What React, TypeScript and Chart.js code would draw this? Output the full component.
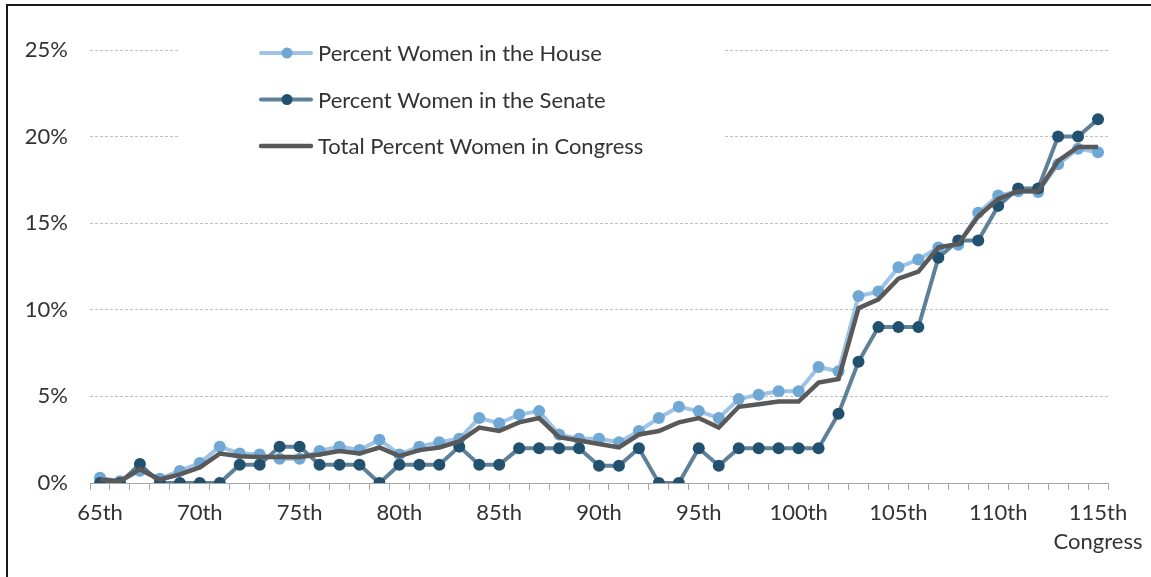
import React, { useEffect, useRef } from "react";
import { Chart, registerables } from "chart.js";

Chart.register(...registerables);

const congresses: string[] = [
  "65th", "66th", "67th", "68th", "69th", "70th", "71st", "72nd", "73rd", "74th",
  "75th", "76th", "77th", "78th", "79th", "80th", "81st", "82nd", "83rd", "84th",
  "85th", "86th", "87th", "88th", "89th", "90th", "91st", "92nd", "93rd", "94th",
  "95th", "96th", "97th", "98th", "99th", "100th", "101st", "102nd", "103rd", "104th",
  "105th", "106th", "107th", "108th", "109th", "110th", "111th", "112th", "113th", "114th",
  "115th",
];

const houseValues: number[] = [
  0.3, 0.1, 0.7, 0.25, 0.7, 1.15, 2.1, 1.7, 1.65, 1.4,
  1.4, 1.85, 2.1, 1.9, 2.5, 1.65, 2.1, 2.35, 2.55, 3.75,
  3.45, 3.95, 4.15, 2.8, 2.55, 2.55, 2.35, 3.0, 3.75, 4.4,
  4.15, 3.75, 4.85, 5.1, 5.3, 5.3, 6.7, 6.45, 10.8, 11.05,
  12.45, 12.9, 13.6, 13.75, 15.6, 16.6, 16.85, 16.8, 18.4, 19.3,
  19.1,
];

const senateValues: number[] = [
  0, 0, 1.1, 0, 0, 0, 0, 1.05, 1.05, 2.1,
  2.1, 1.05, 1.05, 1.05, 0, 1.05, 1.05, 1.05, 2.1, 1.05,
  1.05, 2.0, 2.0, 2.0, 2.0, 1.0, 1.0, 2.0, 0, 0,
  2.0, 1.0, 2.0, 2.0, 2.0, 2.0, 2.0, 4.0, 7.0, 9.0,
  9.0, 9.0, 13.0, 14.0, 14.0, 16.0, 17.0, 17.0, 20.0, 20.0,
  21.0,
];

const totalValues: number[] = [
  0.2, 0.1, 0.8, 0.2, 0.5, 0.9, 1.7, 1.55, 1.5, 1.5,
  1.5, 1.65, 1.85, 1.7, 2.05, 1.55, 1.9, 2.05, 2.4, 3.2,
  3.0, 3.5, 3.75, 2.65, 2.45, 2.25, 2.05, 2.8, 3.0, 3.5,
  3.75, 3.2, 4.4, 4.55, 4.7, 4.7, 5.8, 6.0, 10.1, 10.6,
  11.8, 12.2, 13.6, 13.8, 15.4, 16.4, 16.85, 16.85, 18.6, 19.4,
  19.4,
];

const seriesNames: string[] = [
  "Percent Women in the House",
  "Percent Women in the Senate",
  "Total Percent Women in Congress",
];

const yTicks: number[] = [0, 5, 10, 15, 20, 25];
const xAxisTitle = "Congress";

const FONT = "Lato, 'Open Sans', sans-serif";
const TEXT_COLOR = "#333333";

const legendPlugin = {
  id: "customLegend",
  beforeDatasetsDraw(chart: any) {
    const ctx = chart.ctx;
    ctx.save();
    ctx.fillStyle = "#ffffff";
    ctx.fillRect(180, 28, 545, 140);
    const items = [chart.data.datasets[0], chart.data.datasets[1], chart.data.datasets[2]];
    items.forEach((ds: any, i: number) => {
      const y = 53 + i * 46.5;
      ctx.strokeStyle = ds.borderColor;
      ctx.lineWidth = ds.borderWidth;
      ctx.lineCap = "round";
      ctx.beginPath();
      ctx.moveTo(261, y);
      ctx.lineTo(311, y);
      ctx.stroke();
      if (ds.pointRadius > 0) {
        ctx.fillStyle = ds.pointBackgroundColor;
        ctx.beginPath();
        ctx.arc(287, y, 5.5, 0, Math.PI * 2);
        ctx.fill();
      }
      ctx.fillStyle = TEXT_COLOR;
      ctx.font = `22px ${FONT}`;
      ctx.textBaseline = "middle";
      ctx.textAlign = "left";
      ctx.fillText(ds.label, 318, y + 1);
    });
    ctx.restore();
  },
  afterDraw(chart: any) {
    const ctx = chart.ctx;
    const xScale = chart.scales.x;
    ctx.save();
    ctx.fillStyle = TEXT_COLOR;
    ctx.font = `22px ${FONT}`;
    ctx.textBaseline = "middle";
    ctx.textAlign = "center";
    const lastX = xScale.getPixelForValue(congresses.length - 1);
    ctx.fillText(xAxisTitle, lastX, 542);
    ctx.restore();
  },
};

export default function App() {
  const canvasRef = useRef<HTMLCanvasElement | null>(null);

  useEffect(() => {
    const canvas = canvasRef.current;
    if (!canvas) return;
    const chart = new Chart(canvas, {
      type: "line",
      data: {
        labels: congresses,
        datasets: [
          {
            label: seriesNames[0],
            data: houseValues,
            borderColor: "#9DC3E6",
            backgroundColor: "#6FA8D4",
            pointBackgroundColor: "#6FA8D4",
            pointBorderColor: "#6FA8D4",
            pointBorderWidth: 0,
            pointRadius: 6,
            borderWidth: 4,
            tension: 0,
            order: 3,
          },
          {
            label: seriesNames[1],
            data: senateValues,
            borderColor: "#5F8099",
            backgroundColor: "#22506F",
            pointBackgroundColor: "#22506F",
            pointBorderColor: "#22506F",
            pointBorderWidth: 0,
            pointRadius: 6,
            borderWidth: 4,
            tension: 0,
            order: 2,
          },
          {
            label: seriesNames[2],
            data: totalValues,
            borderColor: "#595959",
            backgroundColor: "#595959",
            pointRadius: 0,
            borderWidth: 4.5,
            tension: 0,
            order: 1,
          },
        ],
      },
      options: {
        responsive: false,
        animation: false,
        layout: { padding: { left: 0, right: 43, top: 50, bottom: 0 } },
        plugins: {
          legend: { display: false },
          tooltip: { enabled: false },
        },
        scales: {
          x: {
            type: "category",
            offset: true,
            grid: {
              offset: true,
              drawOnChartArea: false,
              drawTicks: true,
              tickLength: 7,
              color: "#A6A6A6",
            },
            border: { display: true, color: "#A6A6A6", width: 1 },
            ticks: {
              autoSkip: false,
              maxRotation: 0,
              minRotation: 0,
              padding: 10,
              color: TEXT_COLOR,
              font: { family: FONT, size: 22 },
              callback: (_v: any, i: number) => (i % 5 === 0 ? congresses[i] : ""),
            },
            afterFit: (scale: any) => {
              scale.height = 94;
            },
          },
          y: {
            min: 0,
            max: 25,
            grid: {
              drawTicks: false,
              color: "#BFBFBF",
              lineWidth: 1,
            },
            border: { display: false, dash: [3, 2] },
            ticks: {
              stepSize: 5,
              padding: 22,
              color: TEXT_COLOR,
              font: { family: FONT, size: 22 },
              callback: (v: any) => (yTicks.includes(Number(v)) ? `${v}%` : ""),
            },
            afterFit: (scale: any) => {
              scale.width = 90;
            },
          },
        },
      },
      plugins: [legendPlugin],
    });
    return () => chart.destroy();
  }, []);

  return (
    <div
      style={{
        position: "absolute",
        left: 0,
        top: 0,
        width: 1151,
        height: 577,
        background: "#ffffff",
        overflow: "hidden",
      }}
    >
      <canvas ref={canvasRef} width={1151} height={577} style={{ display: "block" }} />
      <div
        style={{
          position: "absolute",
          left: 6,
          top: 4,
          right: -10,
          bottom: -10,
          borderLeft: "2px solid #1a1a1a",
          borderTop: "2px solid #1a1a1a",
          pointerEvents: "none",
        }}
      />
    </div>
  );
}
